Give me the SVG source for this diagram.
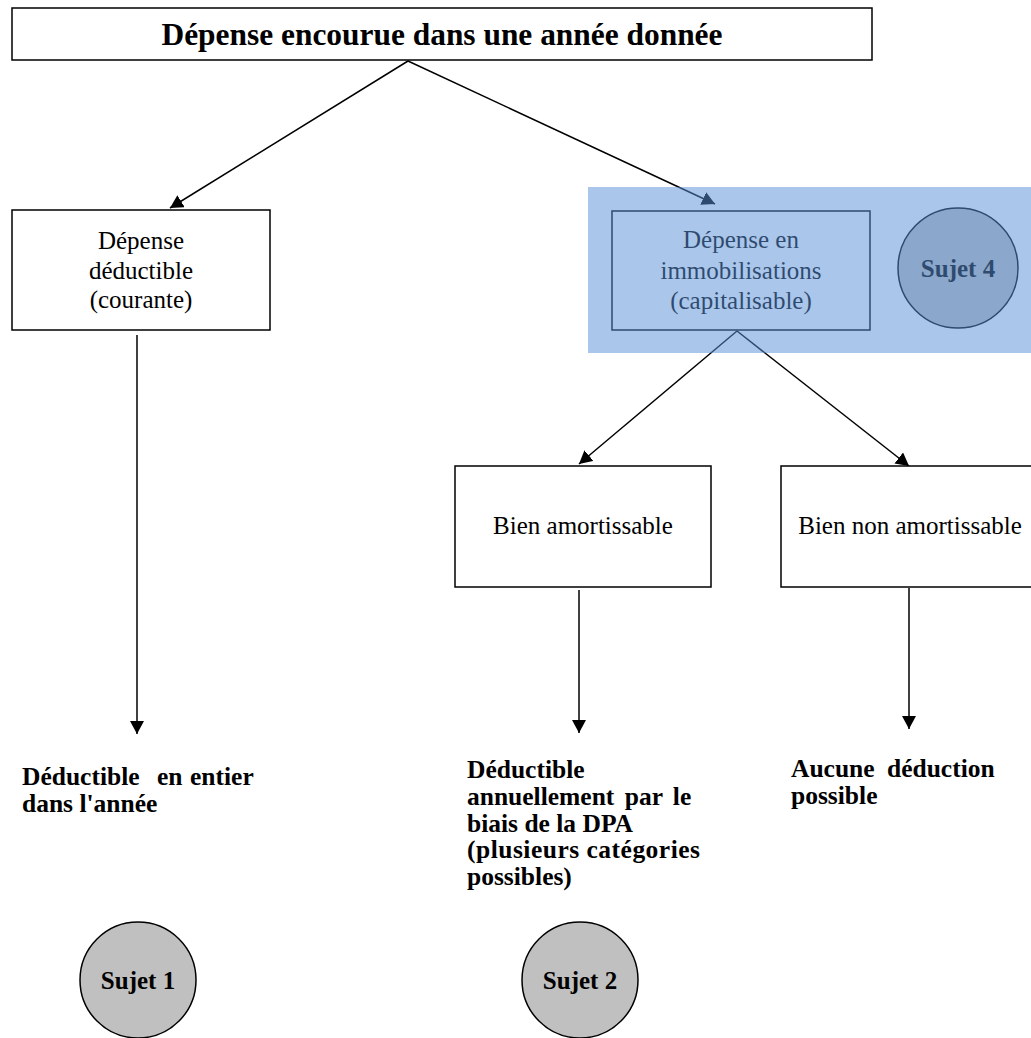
<svg xmlns="http://www.w3.org/2000/svg" width="1031" height="1038" viewBox="0 0 1031 1038">
<style>
text{font-family:"Liberation Serif","Times New Roman",serif;fill:#000}
.box{fill:#fff;stroke:#000;stroke-width:1.5}
.reg{font-size:25px;text-anchor:middle}
.bold{font-weight:bold}
.lbl{font-size:25.5px;font-weight:bold}
.circ{fill:#c0c0c0;stroke:#000;stroke-width:1.5}
.edge{stroke:#000;stroke-width:1.5;fill:none;marker-end:url(#ah)}
</style>
<defs>
<marker id="ah" markerUnits="userSpaceOnUse" markerWidth="14" markerHeight="14" viewBox="0 0 14 14" refX="13" refY="7" orient="auto">
<path d="M0,0 L13,7 L0,14 Z" fill="#000"/>
</marker>
</defs>
<rect width="1031" height="1038" fill="#fff"/>
<g id="connectors">
<line class="edge" x1="408" y1="61" x2="170" y2="208"/>
<line class="edge" x1="408" y1="61" x2="715" y2="204"/>
<line class="edge" x1="137" y1="335" x2="137" y2="734"/>
<line class="edge" x1="737" y1="331" x2="579" y2="464"/>
<line class="edge" x1="737" y1="331" x2="909" y2="466"/>
<line class="edge" x1="579" y1="590" x2="579" y2="733"/>
<line class="edge" x1="909" y1="588" x2="909" y2="729"/>
</g>
<g id="n-top">
<rect class="box" x="12" y="8" width="860" height="52"/>
<text class="bold" x="442" y="45" font-size="32" text-anchor="middle" textLength="561" lengthAdjust="spacingAndGlyphs">Dépense encourue dans une année donnée</text>
</g>
<g id="n-deductible">
<rect class="box" x="12" y="210" width="258" height="120"/>
<text class="reg" x="141" y="249">Dépense</text>
<text class="reg" x="141" y="279">déductible</text>
<text class="reg" x="141" y="308">(courante)</text>
</g>
<g id="n-immob">
<rect class="box" x="612" y="211" width="258" height="119"/>
<text class="reg" x="741" y="248">Dépense en</text>
<text class="reg" x="741" y="279">immobilisations</text>
<text class="reg" x="741" y="309">(capitalisable)</text>
</g>
<g id="n-sujet4">
<circle class="circ" cx="958" cy="268" r="60"/>
<text class="bold" x="958" y="277" font-size="25" text-anchor="middle">Sujet 4</text>
</g>
<g id="n-amort">
<rect class="box" x="455" y="466" width="256" height="121"/>
<text class="reg" x="583" y="534">Bien amortissable</text>
</g>
<g id="n-nonamort">
<rect class="box" x="781" y="466" width="258" height="121"/>
<text class="reg" x="910" y="534">Bien non amortissable</text>
</g>
<g id="n-res1">
<text class="lbl" y="785"><tspan x="22">Déductible</tspan><tspan x="157">en</tspan><tspan x="190">entier</tspan></text>
<text class="lbl" x="22" y="812">dans l'année</text>
</g>
<g id="n-res2">
<text class="lbl" x="467" y="778">Déductible</text>
<text class="lbl" x="467" y="805" word-spacing="4">annuellement par le</text>
<text class="lbl" x="467" y="832">biais de la DPA</text>
<text class="lbl" x="467" y="858" textLength="233" lengthAdjust="spacing">(plusieurs catégories</text>
<text class="lbl" x="467" y="885">possibles)</text>
</g>
<g id="n-res3">
<text class="lbl" y="777"><tspan x="791">Aucune</tspan><tspan x="887">déduction</tspan></text>
<text class="lbl" x="791" y="804">possible</text>
</g>
<g id="n-sujet1">
<circle class="circ" cx="138" cy="980" r="58"/>
<text class="bold" x="138" y="989" font-size="25" text-anchor="middle">Sujet 1</text>
</g>
<g id="n-sujet2">
<circle class="circ" cx="580" cy="980" r="58"/>
<text class="bold" x="580" y="989" font-size="25" text-anchor="middle">Sujet 2</text>
</g>
<g id="highlight">
<rect x="588" y="187" width="443" height="166" fill="#5990d6" fill-opacity="0.515"/>
</g>
</svg>
